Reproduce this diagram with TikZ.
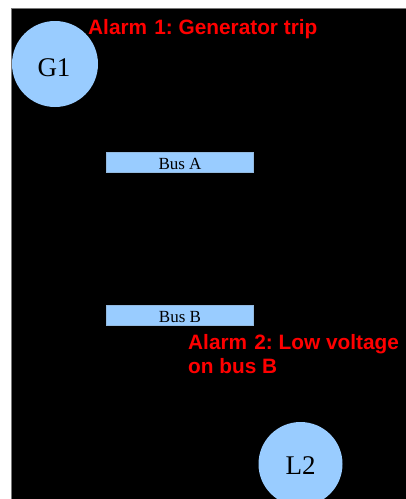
\documentclass[tikz,border=0pt]{standalone}
\usepackage{fontspec}
\setmainfont{Liberation Serif}
\newfontfamily\alarmfont{Liberation Sans}
\definecolor{busblue}{RGB}{153,204,255}
\definecolor{frame}{RGB}{120,120,120}
\frenchspacing
\begin{document}
\begin{tikzpicture}[x=1pt,y=-1pt,
  unit/.style={circle,fill=busblue,inner sep=0pt,minimum size=#1},
  unitlabel/.style={anchor=base,inner sep=0pt,font=\fontsize{27}{30}\selectfont},
  busbar/.style={fill=busblue,draw=busblue!75!gray,line width=0.6pt},
  buslabel/.style={anchor=base,inner sep=0pt,font=\fontsize{17}{20}\selectfont},
  alarm/.style={anchor=base west,inner sep=0pt,text=red,
    font=\alarmfont\bfseries\fontsize{20.8}{24}\selectfont}]
  \useasboundingbox (0,0) rectangle (406,499);
  \clip (0,0) rectangle (406,499);
  % page and dark panel
  \fill[white] (0,0) rectangle (406,499);
  \draw[fill=black,draw=frame,line width=0.8pt] (11,8) rectangle (410,505);
  % generator
  \node[unit=86pt] (g1) at (55,64) {};
  \node[unitlabel] (g1t) at (54,76) {G1};
  % buses
  \draw[busbar] (106,152) rectangle (253,172);
  \node[buslabel] (busa) at (180,169) {Bus A};
  \draw[busbar] (106,305) rectangle (253,325);
  \node[buslabel] (busb) at (180,322) {Bus B};
  % load
  \node[unit=84pt] (l2) at (300.5,464) {};
  \node[unitlabel] (l2t) at (300.5,474) {L2};
  % alarms
  \node[alarm] (alarm1) at (88,34) {Alarm\hspace{1.5pt} 1: Generator trip};
  \node[alarm] (alarm2) at (188,349) {Alarm\hspace{1.5pt} 2: Low voltage};
  \node[alarm] (alarm2b) at (188,373) {on bus B};
\end{tikzpicture}
\end{document}
